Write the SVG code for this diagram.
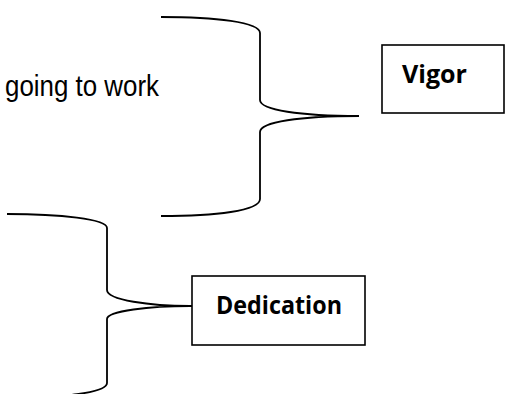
<svg xmlns="http://www.w3.org/2000/svg" width="508" height="394" viewBox="0 0 508 394">
<style>
.brace{fill:none;stroke:#000;stroke-width:1.8;}
.box{fill:#fff;stroke:#000;stroke-width:1.6;}
.lbl{font-family:"Open Sans","Noto Sans",sans-serif;font-weight:700;font-size:25.5px;fill:#000;}
.txt{font-family:"Liberation Sans",Arial,sans-serif;font-size:29.5px;fill:#000;}
</style>
<rect width="508" height="394" fill="#fff"/>
<g id="connectors">
<path class="brace" d="M161,17 C215,17 260,22 260,33 L260,100 C260,110 300,116 359,116 M359,116 C300,116 260,122 260,132 L260,199 C260,211 215,216 161,216"/>
<path class="brace" d="M7,214 C60,214 107,219 107,228 L107,290 C107,300 150,306 190,306 L207,306 M190,306 C150,306 107,311 107,319 L107,383 C107,393 60,398 7,398"/>
</g>
<g id="going-to-work">
<text class="txt" x="5" y="95.5" textLength="154" lengthAdjust="spacingAndGlyphs">going to work</text>
</g>
<g id="vigor">
<rect class="box" x="382" y="45" width="122" height="68"/>
<text class="lbl" x="402" y="83" textLength="65" lengthAdjust="spacingAndGlyphs">Vigor</text>
</g>
<g id="dedication">
<rect class="box" x="192" y="276" width="173" height="69"/>
<text class="lbl" x="216" y="313.5" textLength="126" lengthAdjust="spacingAndGlyphs">Dedication</text>
</g>
</svg>
